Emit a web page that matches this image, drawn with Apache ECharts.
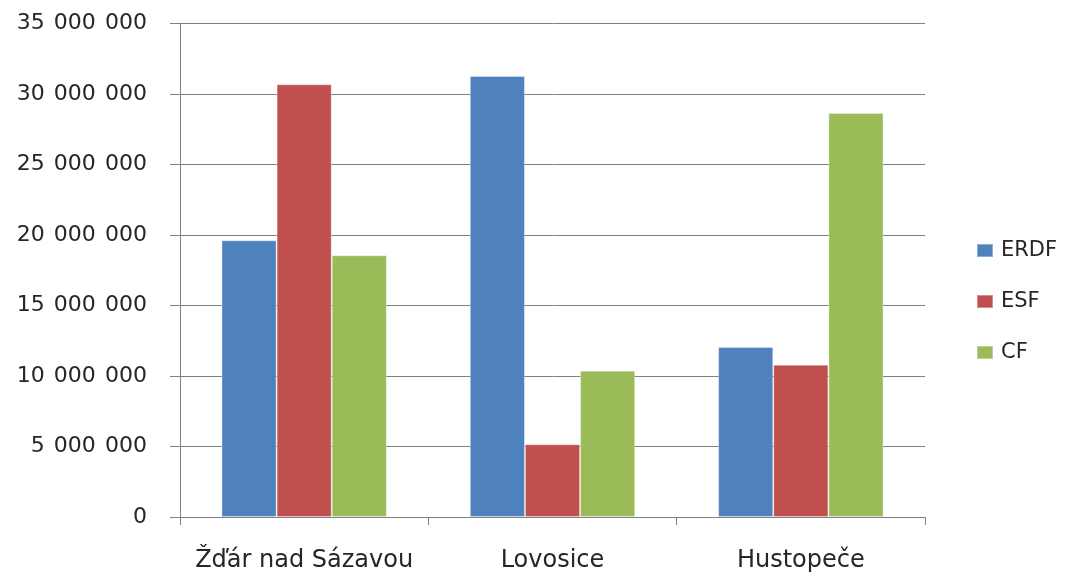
<!DOCTYPE html>
<html>
<head>
<meta charset="utf-8">
<script src="https://cdn.jsdelivr.net/npm/echarts@6/dist/echarts.min.js"></script>
<style>html,body{margin:0;padding:0;background:#fff;}#c{width:1066px;height:573px;}</style>
</head>
<body>
<div id="c"></div>
<script>
const categories = ['Žďár nad Sázavou', 'Lovosice', 'Hustopeče'];
const seriesNames = ['ERDF', 'ESF', 'CF'];
const erdf = [19620000, 31280000, 12060000];
const esf = [30690000, 5160000, 10800000];
const cf = [18560000, 10380000, 28650000];
const colors = ['#4F81BD', '#C0504D', '#9BBB59'];
const yMin = 0, yMax = 35000000, yStep = 5000000;

const values = [erdf, esf, cf];
function fmt(v) {
  return String(v).replace(/\B(?=(\d{3})+(?!\d))/g, ' \u200A');
}
const chart = echarts.init(document.getElementById('c'), null, {renderer: 'canvas'});
chart.setOption({
  animation: false,
  backgroundColor: '#fff',
  textStyle: {fontFamily: 'DejaVu Sans'},
  grid: {left: 180, right: 141, top: 23.5, bottom: 56, containLabel: false},
  legend: {
    orient: 'vertical',
    left: 976,
    top: 240,
    padding: 0,
    itemWidth: 16,
    itemHeight: 13,
    itemGap: 30,
    icon: 'rect',
    textStyle: {fontFamily: 'DejaVu Sans', fontSize: 21, color: '#262626', padding: [0,0,0,3]},
    data: seriesNames
  },
  xAxis: {
    type: 'category',
    data: categories,
    axisLine: {show: true, lineStyle: {color: '#808080', width: 1}},
    axisTick: {show: true, length: 8, lineStyle: {color: '#808080'}},
    axisLabel: {fontFamily: 'DejaVu Sans', fontSize: 24, color: '#262626', margin: 32, interval: 0}
  },
  yAxis: {
    type: 'value',
    min: yMin, max: yMax, interval: yStep,
    axisLine: {show: true, lineStyle: {color: '#808080', width: 1}},
    axisTick: {show: true, length: 10, lineStyle: {color: '#808080'}},
    splitLine: {show: true, lineStyle: {color: '#808080', width: 1}},
    axisLabel: {fontFamily: 'DejaVu Sans', fontSize: 22, color: '#262626', margin: 33, formatter: fmt}
  },
  series: seriesNames.map((n, i) => ({
    name: n,
    type: 'bar',
    data: values[i],
    barGap: '0%',
    barCategoryGap: '33.4%',
    itemStyle: {color: colors[i], borderColor: 'rgba(255,255,255,0.35)', borderWidth: 1}
  }))
});
</script>
</body>
</html>
